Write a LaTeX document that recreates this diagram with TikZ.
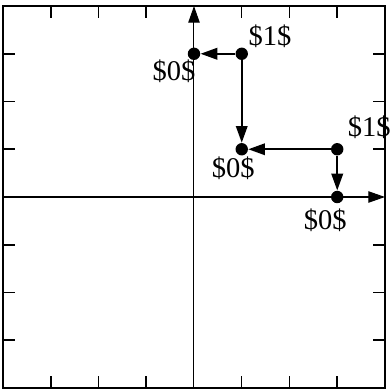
\documentclass[tikz,border=0pt]{standalone}
\usepackage{fontspec}
\setmainfont{Liberation Serif}
\usetikzlibrary{arrows.meta}
\tikzset{
  dot/.style={circle,fill=black,inner sep=0pt,minimum size=0.26cm},
  lab/.style={inner sep=0pt,font=\fontsize{17}{17}\selectfont},
  edgearrow/.style={line width=1.2pt,-{Triangle[length=3.5mm,width=2.4mm]}},
  axisline/.style={line width=0.6pt,-{Triangle[length=3.5mm,width=2.4mm]}},
  tick/.style={line width=0.9pt}
}
\begin{document}
\begin{tikzpicture}[x=1cm,y=1cm]
\useasboundingbox (-4.063,-4.062) rectangle (4.126,4.126);
% frame
\draw[line width=1.2pt] (-4,-4) rectangle (4,4);
% ticks
\foreach \t in {-3,-2,-1,1,2,3}{
  \draw[tick] (\t,-4) -- (\t,-3.75);
  \draw[tick] (\t,4) -- (\t,3.75);
  \draw[tick] (-4,\t) -- (-3.75,\t);
  \draw[tick] (4,\t) -- (3.75,\t);
}
% axes
\coordinate (xs) at (-4,0);
\coordinate (xe) at (4,0);
\coordinate (ys) at (0,-4);
\coordinate (ye) at (0,4);
\draw[axisline] (xs) -- (xe);
\draw[axisline] (ys) -- (ye);
% points
\node[dot] (p13) at (1,3) {};
\node[dot] (p03) at (0,3) {};
\node[dot] (p11) at (1,1) {};
\node[dot] (p31) at (3,1) {};
\node[dot] (p30) at (3,0) {};
% edges
\draw[edgearrow] (p13) -- (p03);
\draw[edgearrow] (p13) -- (p11);
\draw[edgearrow] (p31) -- (p11);
\draw[edgearrow] (p31) -- (p30);
% labels
\node[lab] (l13) at (1.59,3.36) {\$1\$};
\node[lab] (l03) at (-0.42,2.64) {\$0\$};
\node[lab] (l11) at (0.82,0.60) {\$0\$};
\node[lab] (l31) at (3.67,1.46) {\$1\$};
\node[lab] (l30) at (2.75,-0.48) {\$0\$};
\end{tikzpicture}
\end{document}
